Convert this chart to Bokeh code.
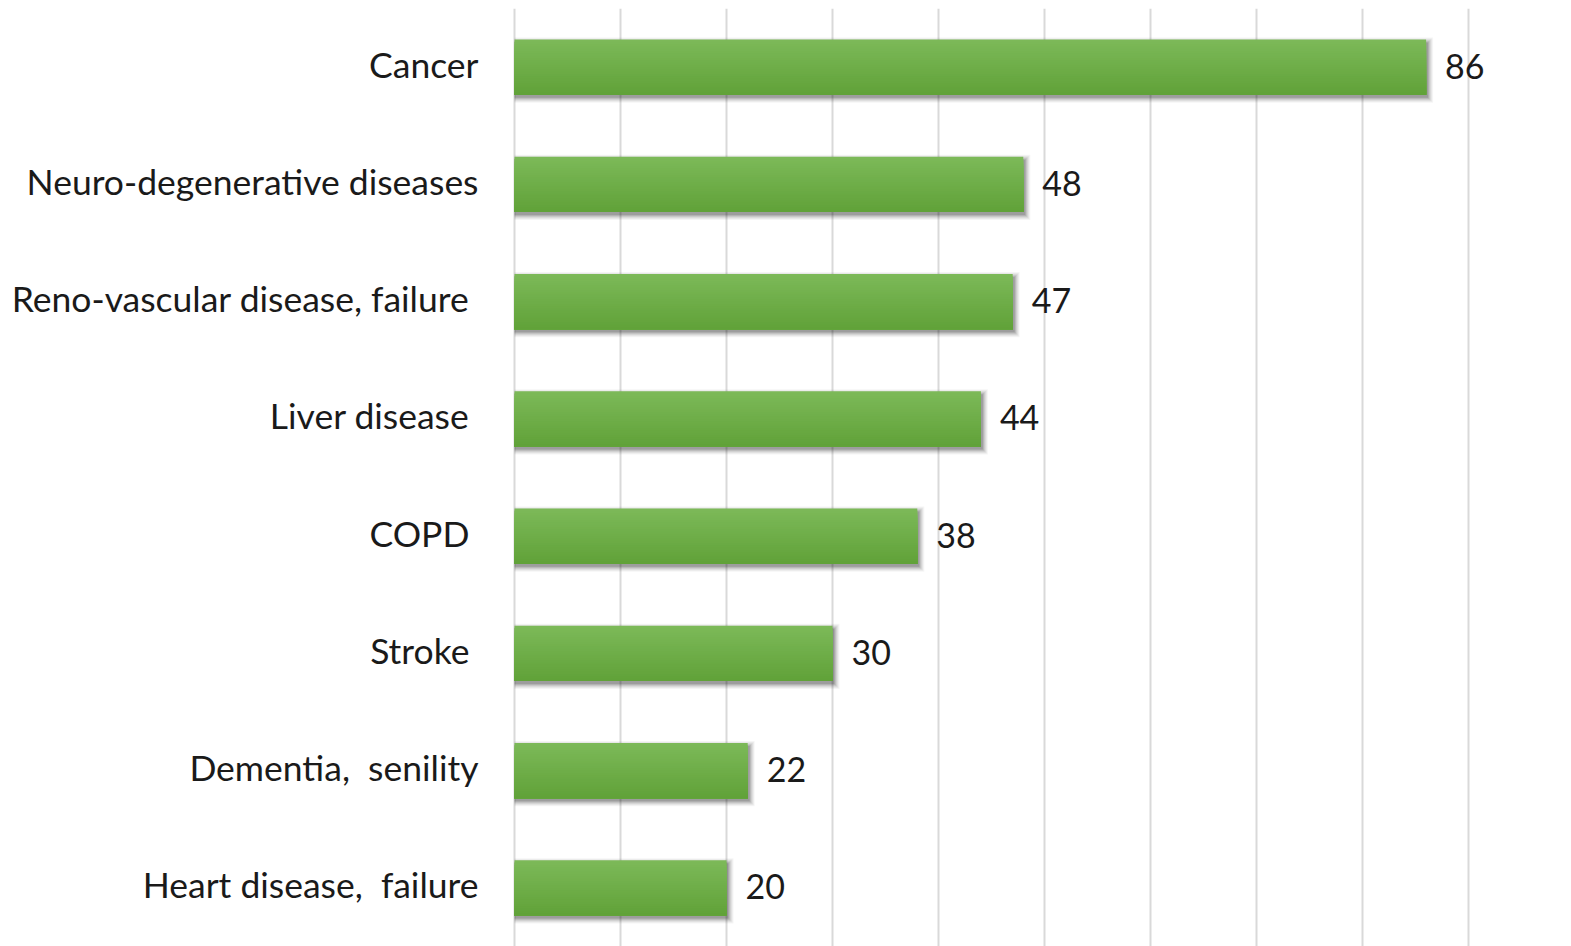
from bokeh.plotting import figure
from bokeh.models import ColumnDataSource, LabelSet, Range1d, FixedTicker, CustomJSTickFormatter
from bokeh.core.properties import value
from bokeh.embed import file_html
from bokeh.resources import INLINE

# Causes of death and their counts, top to bottom
causes = [
    "Cancer",
    "Neuro-degenerative diseases",
    "Reno-vascular disease, failure\u00a0",
    "Liver disease\u00a0",
    "COPD\u00a0",
    "Stroke\u00a0",
    "Dementia,\u00a0 senility",
    "Heart disease,\u00a0 failure",
]
counts = [86, 48, 47, 44, 38, 30, 22, 20]
grid_ticks = [0, 10, 20, 30, 40, 50, 60, 70, 80, 90]

W, H = 1571, 946
LEFT, TOP = 512, 8
N = len(causes)
PX_PER_UNIT = 10.6
x_start = -2 / PX_PER_UNIT
x_end = x_start + (W - LEFT) / PX_PER_UNIT

p = figure(width=W, height=H, output_backend="svg", toolbar_location=None,
           x_range=Range1d(x_start, x_end), y_range=Range1d(N - 0.5, -0.5),
           min_border_left=LEFT, min_border_right=0, min_border_top=TOP,
           min_border_bottom=0, outline_line_color=None,
           background_fill_color="white", border_fill_color="white")
p.xaxis.visible = False
p.ygrid.visible = False
p.xgrid.ticker = FixedTicker(ticks=grid_ticks)
p.xgrid.grid_line_color = "#d9d9d9"
p.xgrid.grid_line_width = 2

ys = list(range(N))

# pixel -> data conversions
px_x = 1 / PX_PER_UNIT
px_y = N / (H - TOP)

# category names on the left axis (nudged up a few pixels to sit on the bar centre)
yax = p.yaxis[0]
yax.ticker = FixedTicker(ticks=[y - 3 * px_y for y in ys])
yax.formatter = CustomJSTickFormatter(args=dict(names=causes),
                                      code="return names[Math.round(tick)] || ''")
yax.axis_line_color = None
yax.major_tick_line_color = None
yax.minor_tick_line_color = None
yax.major_tick_out = 0
yax.major_tick_in = 0
yax.major_label_standoff = 34
yax.major_label_text_font = "Lato"
yax.major_label_text_font_size = "35.5px"
yax.major_label_text_color = "#1a1a1a"

bar_h = 0.47

# soft drop shadow below each bar
for dx, dy, grow, a in [(2, 3, 5, 0.04), (2, 3, 4, 0.05), (2, 3, 3, 0.06),
                        (2, 3, 2, 0.08), (2, 3, 1, 0.10), (2, 3, 0, 0.12)]:
    p.quad(left=[0 for _ in counts],
           right=[c + (dx + grow) * px_x for c in counts],
           top=[y - bar_h / 2 + (dy - grow) * px_y for y in ys],
           bottom=[y + bar_h / 2 + (dy + grow) * px_y for y in ys],
           fill_color="#000000", fill_alpha=a, line_color=None)

# vertical gradient fill: lighter at the top, darker at the bottom
top_rgb = (0x7c, 0xb9, 0x58)
bot_rgb = (0x61, 0xa2, 0x39)
STEPS = 24
for k in range(STEPS):
    t = k / (STEPS - 1)
    col = "#%02x%02x%02x" % tuple(round(a + (b - a) * t) for a, b in zip(top_rgb, bot_rgb))
    p.quad(left=[0 for _ in counts], right=counts,
           top=[y - bar_h / 2 + bar_h * k / STEPS for y in ys],
           bottom=[y + bar_h / 2 for y in ys],
           fill_color=col, line_color=None)

src = ColumnDataSource(dict(y=ys, v=counts, vtxt=[str(c) for c in counts]))

p.add_layout(LabelSet(x="v", y="y", text="vtxt", source=src,
                      x_offset=19, y_offset=1, text_align="left",
                      text_baseline="middle",
                      text_font=value("Lato"), text_font_size=value("34px"),
                      text_color="#1a1a1a"))

open("out.html", "w").write(file_html(p, INLINE))
